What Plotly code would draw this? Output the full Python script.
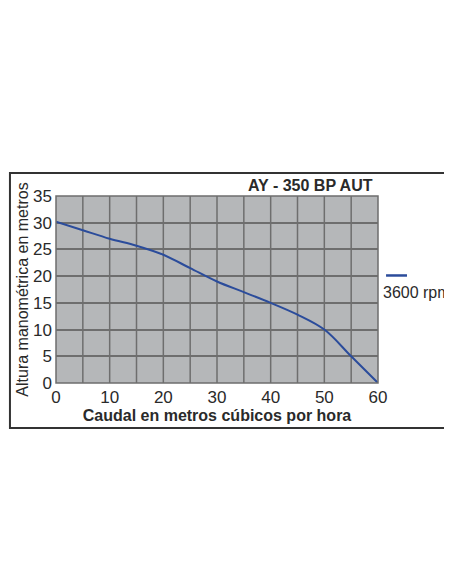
import plotly.graph_objects as go

caudal = [0, 5, 10, 15, 20, 25, 30, 35, 40, 45, 50, 55, 60]
altura = [30.2, 28.6, 27.0, 25.7, 24.0, 21.5, 19.0, 17.0, 15.0, 12.8, 10.0, 5.0, 0.0]

fig = go.Figure()
fig.add_trace(go.Scatter(x=caudal, y=altura, mode="lines", line_shape="spline",
                         line=dict(color="#2b4c9b", width=2), showlegend=False))

font = "Liberation Sans, Arial, sans-serif"
fig.update_layout(
    width=452, height=584,
    margin=dict(l=48, r=82, t=188, b=209),
    paper_bgcolor="white", plot_bgcolor="#b5b7b9",
    font=dict(family=font, color="#2a2a2a", size=17),
)
fig.update_xaxes(range=[0, 60], dtick=10, showgrid=False, zeroline=False,
                 ticks="", ticklen=0, automargin=False, ticklabelstandoff=2,
                 title=dict(text="<b>Caudal en metros cúbicos por hora</b>",
                            font=dict(size=16), standoff=0))
fig.update_yaxes(range=[0, 35], dtick=5, gridcolor="#6e6e6e", gridwidth=1.5,
                 zeroline=False, ticks="", ticklen=0, automargin=False, ticklabelstandoff=3,
                 title=dict(text="Altura manométrica en metros", font=dict(size=16), standoff=0))
# vertical grid every 5
for xv in range(5, 60, 5):
    fig.add_shape(type="line", x0=xv, x1=xv, y0=0, y1=35,
                  line=dict(color="#6e6e6e", width=1.5), layer="below")
# plot frame
fig.add_shape(type="rect", xref="paper", yref="paper", x0=0, x1=1, y0=0, y1=1,
              line=dict(color="#6e6e6e", width=1.5))
# outer border
fig.add_shape(type="rect", xref="paper", yref="paper", x0=-0.143, x1=1.248,
              y0=-0.241, y1=1.123, line=dict(color="#333333", width=2))
fig.add_annotation(text="<b>AY - 350 BP AUT</b>", xref="paper", yref="paper",
                   x=0.99, y=1.0, xanchor="right", yanchor="bottom", showarrow=False,
                   font=dict(size=16, color="#2a2a2a"))
# legend
fig.add_shape(type="line", xref="paper", yref="paper", x0=1.025, x1=1.09,
              y0=0.575, y1=0.575, line=dict(color="#2b4c9b", width=2.5))
fig.add_annotation(text="3600 rpm", xref="paper", yref="paper", x=1.01, y=0.485,
                   xanchor="left", yanchor="middle", showarrow=False,
                   font=dict(size=16, color="#2a2a2a"))

fig.write_html("out.html")
